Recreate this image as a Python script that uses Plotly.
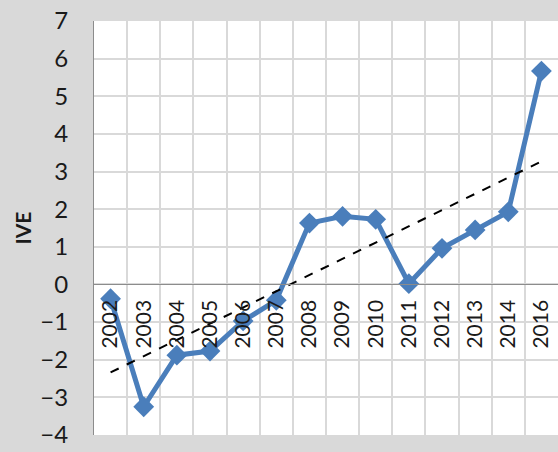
import numpy as np
import plotly.graph_objects as go

years = ["2002", "2003", "2004", "2005", "2006", "2007", "2008",
         "2009", "2010", "2011", "2012", "2013", "2014", "2016"]
ive = [-0.38, -3.25, -1.88, -1.77, -0.97, -0.42, 1.63,
       1.81, 1.73, 0.02, 0.96, 1.45, 1.93, 5.67]
y_ticks = list(range(-4, 8))

# linear trend, as the spreadsheet draws it
idx = np.arange(1, len(years) + 1)
slope, icpt = np.polyfit(idx, ive, 1)
trend = slope * idx + icpt

blue = "#4a7ebb"
grid = "#d9d9d9"
font = "Century Gothic, Lato, sans-serif"

fig = go.Figure()
fig.add_trace(go.Scatter(
    x=years, y=ive, mode="lines+markers",
    line=dict(color=blue, width=5),
    marker=dict(symbol="diamond", size=16, color=blue),
    showlegend=False,
))
fig.add_trace(go.Scatter(
    x=[years[0], years[-1]], y=[trend[0], trend[-1]], mode="lines",
    line=dict(color="black", width=2, dash="dash"),
    showlegend=False,
))

fig.update_layout(
    width=558, height=452,
    margin=dict(l=94, r=0, t=21, b=17),
    paper_bgcolor="#d9d9d9",
    plot_bgcolor="white",
    font=dict(family=font, color="#1a1a1a"),
)
fig.update_xaxes(
    type="category",
    tickson="boundaries",
    showgrid=True, gridcolor=grid, gridwidth=1.5,
    anchor="free", position=4 / 11,
    showline=True, linecolor="#8c8c8c", linewidth=1,
    ticks="", tickangle=-90,
    tickfont=dict(size=21, family=font),
    ticklabelstandoff=6,
    range=[-0.5, len(years) - 0.5],
)
fig.update_yaxes(
    range=[-4, 7], tickvals=y_ticks,
    showgrid=True, gridcolor=grid, gridwidth=1.5,
    zeroline=False,
    showline=True, linecolor="#8c8c8c", linewidth=1,
    ticks="", tickfont=dict(size=24, family=font),
    ticklabelstandoff=20,
    title=dict(text="<b>IVE</b>", font=dict(size=21, family=font), standoff=3),
)

fig.write_html("out.html", config={"displayModeBar": False},
               post_script="document.body.style.margin='0';")
